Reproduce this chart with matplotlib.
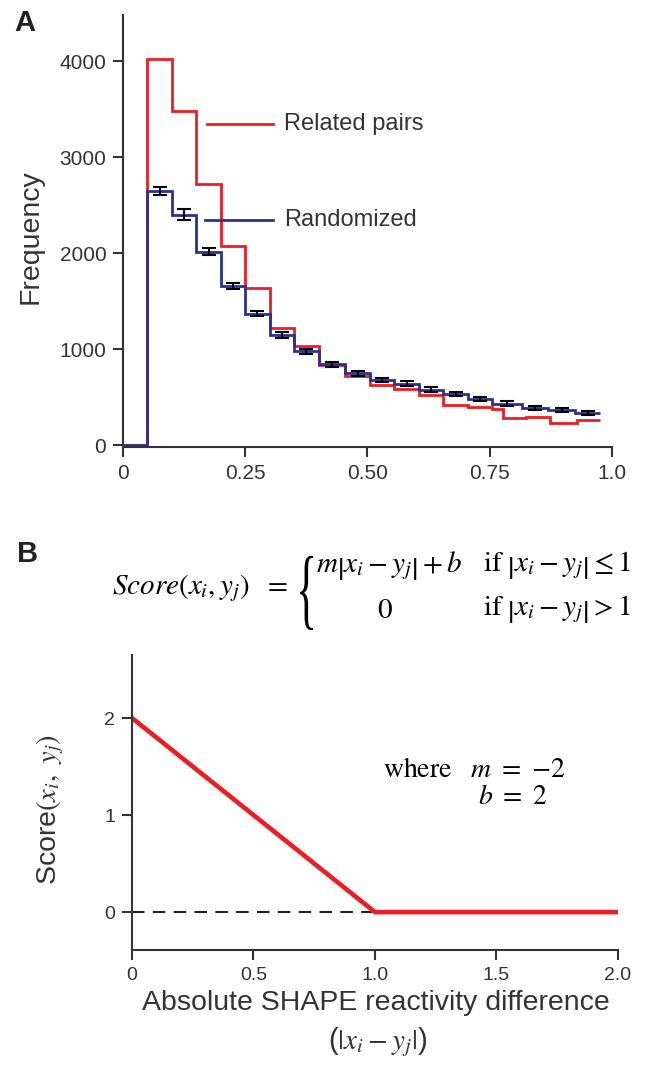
import numpy as np
import matplotlib
matplotlib.use("Agg")
import matplotlib.pyplot as plt
from matplotlib.textpath import TextPath
from matplotlib.font_manager import FontProperties
from matplotlib.patches import PathPatch
from matplotlib.transforms import Affine2D, IdentityTransform

plt.rcParams['font.family'] = ['Liberation Sans', 'DejaVu Sans']
plt.rcParams['mathtext.fontset'] = 'stix'

# panel A: histogram of score differences (bin edges / counts)
edges_rand = [0, 0.05, 0.10, 0.15, 0.20, 0.25, 0.30, 0.35, 0.40, 0.455, 0.505,
              0.555, 0.605, 0.655, 0.705, 0.755, 0.815, 0.87, 0.925, 0.975]
randomized = [0, 2650, 2400, 2015, 1655, 1370, 1145, 975, 840, 748, 680,
              640, 578, 530, 482, 430, 390, 368, 335]
randomized_err = [0, 40, 55, 38, 33, 30, 28, 28, 25, 25, 22,
                  25, 25, 22, 22, 25, 22, 22, 25]

edges_related = [0, 0.05, 0.10, 0.15, 0.20, 0.25, 0.30, 0.35, 0.40, 0.455, 0.505,
                 0.555, 0.605, 0.655, 0.705, 0.755, 0.778, 0.825, 0.873, 0.928, 0.975]
related = [0, 4020, 3480, 2715, 2070, 1635, 1220, 1030, 833, 722, 622,
           580, 521, 420, 398, 372, 280, 288, 232, 260]

a_xticks = [0, 0.25, 0.5, 0.75, 1.0]
a_xticklabels = ['0', '0.25', '0.50', '0.75', '1.0']
a_yticks = [0, 1000, 2000, 3000, 4000]

# panel B: piecewise linear score function
diff = [0, 1, 2]
score = [2, 0, 0]
b_xticks = [0, 0.5, 1.0, 1.5, 2.0]
b_xticklabels = ['0', '0.5', '1.0', '1.5', '2.0']
b_yticks = [0, 1, 2]

RED = '#EE1D23'
BLUE = '#2B3191'
GREY = '#333333'

W, H = 649, 1074
fig = plt.figure(figsize=(W / 100, H / 100), dpi=100)


def style_axes(ax, fs):
    for s in ['top', 'right']:
        ax.spines[s].set_visible(False)
    for s in ['left', 'bottom']:
        ax.spines[s].set_linewidth(1.5)
        ax.spines[s].set_color(GREY)
    ax.tick_params(direction='out', length=7, width=1.5, color=GREY,
                   labelsize=fs, labelcolor=GREY, pad=5)


# ---------------- panel A ----------------
axA = fig.add_axes([0.1895, 0.5838, 0.7535, 0.4022])
style_axes(axA, 15)
axA.stairs(related, edges_related, baseline=None, color=RED, lw=2)
axA.stairs(randomized, edges_rand, baseline=None, color=BLUE, lw=2)
centers = 0.5 * (np.array(edges_rand[:-1]) + np.array(edges_rand[1:]))
axA.errorbar(centers[1:], randomized[1:], yerr=randomized_err[1:], fmt='none',
             ecolor='black', elinewidth=1.5, capsize=5, capthick=1.5, zorder=4)

axA.set_xlim(0, 1.0)
axA.set_ylim(-20, 4480)
axA.set_xticks(a_xticks)
axA.set_xticklabels(a_xticklabels)
axA.set_yticks(a_yticks)
axA.set_ylabel('Frequency', fontsize=20.5, color=GREY)
axA.yaxis.set_label_coords(-0.163, 0.486)

# labels pointing at the two curves
axA.plot([0.172, 0.307], [0.748, 0.748], color=RED, lw=2, transform=axA.transAxes)
axA.text(0.329, 0.748, 'Related pairs', fontsize=17, color=GREY,
         va='center', transform=axA.transAxes)
axA.plot([0.168, 0.307], [0.525, 0.525], color=BLUE, lw=2, transform=axA.transAxes)
axA.text(0.329, 0.525, 'Randomized', fontsize=17, color=GREY,
         va='center', transform=axA.transAxes)

fig.text(0.022, 0.979, 'A', fontsize=21, fontweight='bold', color='#222222', va='center')

# ---------------- panel B ----------------
fig.text(0.026, 0.484, 'B', fontsize=21, fontweight='bold', color='#222222', va='center')

fs_eq = 21
fig.text(112 / W, 1 - 588 / H, r'$Score\left(x_i, y_j\right)\ \ =$', fontsize=fs_eq, va='center')

# thin, tall curly brace
brace = TextPath((0, 0), '{', size=100, prop=FontProperties(family='Liberation Serif'))
bb = brace.get_extents()
bx0, by0, bw, bh = 300, H - 630, 13, 74
tr = (Affine2D().translate(-bb.x0, -bb.y0).scale(bw / bb.width, bh / bb.height)
      .translate(bx0, by0))
fig.patches.append(PathPatch(tr.transform_path(brace), facecolor='black', lw=0,
                             transform=IdentityTransform(), figure=fig))

fig.text(316 / W, 1 - 566 / H, r'$m\left|x_i - y_j\right| + b$', fontsize=fs_eq, va='center')
fig.text(483 / W, 1 - 566 / H, r'$\mathrm{if}\ \left|x_i - y_j\right| \leq 1$', fontsize=fs_eq, va='center')
fig.text(385 / W, 1 - 610 / H, r'$0$', fontsize=fs_eq, va='center', ha='center')
fig.text(483 / W, 1 - 610 / H, r'$\mathrm{if}\ \left|x_i - y_j\right| > 1$', fontsize=fs_eq, va='center')

axB = fig.add_axes([0.2034, 0.1155, 0.7488, 0.2747])
style_axes(axB, 14)
axB.plot([diff[0], diff[1]], [0, 0], color='#222222', lw=1.5, ls=(0, (6, 4)))
axB.plot(diff, score, color=RED, lw=3.3, solid_capstyle='butt', solid_joinstyle='miter')
axB.set_xlim(0, 2.0)
axB.set_ylim(-0.39, 2.65)
axB.set_xticks(b_xticks)
axB.set_xticklabels(b_xticklabels)
axB.set_yticks(b_yticks)
axB.set_ylabel(r'Score$(x_i,\ y_j)$', fontsize=20.5, color=GREY)
axB.yaxis.set_label_coords(-0.136, 0.475)

fig.text(383 / W, 1 - 770 / H, r'$\mathrm{where}\quad m\ =\ {-2}$', fontsize=20, va='center')
fig.text(478 / W, 1 - 797 / H, r'$b\ =\ 2$', fontsize=20, va='center')

fig.text(376 / W, 1 - 1003 / H, 'Absolute SHAPE reactivity difference', fontsize=20.5,
         color=GREY, ha='center', va='center')
fig.text(378 / W, 1 - 1042 / H, r'($|x_i - y_j|$)', fontsize=21, color=GREY,
         ha='center', va='center')

fig.savefig('out.png', dpi=100)
